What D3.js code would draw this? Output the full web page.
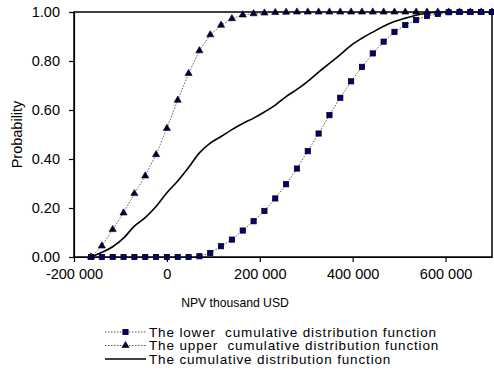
<!DOCTYPE html>
<html lang="en">
<head>
  <meta charset="UTF-8" />
  <title>NPV cumulative distribution</title>
  <script src="https://d3js.org/d3.v7.min.js"></script>
  <style>
    body {
      margin: 0;
      background: white;
      font-family: 'Liberation Sans', Arial, sans-serif;
    }
    .tick text { font-family: 'Liberation Sans', Arial, sans-serif; }
    .legend text { white-space: pre; }
  </style>
</head>
<body>
  <svg id="chart"></svg>

  <script>
    // NPV grid (thousand USD)
    const npv = [-163333, -140000, -116667, -93333, -70000, -46667, -23333, 0,
      23333, 46667, 70000, 93333, 116667, 140000, 163333, 186667, 210000, 233333,
      256667, 280000, 303333, 326667, 350000, 373333, 396667, 420000, 443333, 466667,
      490000, 513333, 536667, 560000, 583333, 606667, 630000, 653333, 676667, 700000];

    const lowerCdf = [0, 0, 0, 0, 0, 0, 0, 0, 0, 0, 0.003, 0.016, 0.044, 0.071, 0.108,
      0.146, 0.188, 0.239, 0.297, 0.361, 0.432, 0.504, 0.579, 0.650, 0.717, 0.776,
      0.831, 0.879, 0.919, 0.947, 0.967, 0.984, 0.992, 0.999, 1, 1, 1, 1];

    const upperCdf = [0, 0.045, 0.112, 0.18, 0.259, 0.331, 0.418, 0.525, 0.640, 0.749,
      0.842, 0.907, 0.946, 0.973, 0.988, 0.993, 0.996, 0.998, 0.999, 1, 1, 1, 1, 1, 1,
      1, 1, 1, 1, 1, 1, 1, 1, 1, 1, 1, 1, 1];

    const cdf = [0, 0.019, 0.042, 0.077, 0.126, 0.161, 0.206, 0.262, 0.31, 0.365,
      0.425, 0.465, 0.492, 0.52, 0.545, 0.567, 0.592, 0.62, 0.655, 0.684, 0.717,
      0.755, 0.79, 0.826, 0.864, 0.893, 0.918, 0.942, 0.961, 0.975, 0.987, 0.995,
      0.999, 1, 1, 1, 1, 1];

    const xTicks = [-200000, 0, 200000, 400000, 600000];
    const yTicks = [0, 0.2, 0.4, 0.6, 0.8, 1.0];

    const legendLabels = [
      "The lower  cumulative distribution function",
      "The upper  cumulative distribution function",
      "The cumulative distribution function"
    ];

    const W = 494, H = 377;
    const margin = { top: 12, right: 2, bottom: 120, left: 74 };
    const width = W - margin.left - margin.right;
    const height = H - margin.top - margin.bottom;

    const svg = d3.select("#chart").attr("width", W).attr("height", H);
    const g = svg.append("g").attr("transform", `translate(${margin.left},${margin.top})`);

    const x = d3.scaleLinear().domain([-200000, 700000]).range([0, width]);
    const y = d3.scaleLinear().domain([0, 1]).range([height, 0]);

    const loc = d3.formatLocale({ decimal: ".", thousands: " ", grouping: [3], currency: ["", ""], minus: "-" });
    const fmtX = loc.format(",d");

    // plot box
    g.append("rect")
      .attr("width", width)
      .attr("height", height)
      .attr("fill", "none")
      .attr("stroke", "#000")
      .attr("stroke-width", 1.5);

    const xAxis = g.append("g")
      .attr("transform", `translate(0,${height})`)
      .call(d3.axisBottom(x).tickValues(xTicks).tickFormat(fmtX).tickSize(5).tickPadding(7).tickSizeOuter(0));

    const yAxis = g.append("g")
      .call(d3.axisLeft(y).tickValues(yTicks).tickFormat(d3.format(".2f")).tickSize(5).tickPadding(9).tickSizeOuter(0));

    [xAxis, yAxis].forEach(a => {
      a.selectAll("path, line").attr("stroke", "#000").attr("stroke-width", 1.2);
      a.selectAll("text").attr("font-size", "14.5px").attr("fill", "#000");
    });

    const dataOf = vals => npv.map((v, i) => ({ x: v, y: vals[i] }));

    const line = d3.line().x(d => x(d.x)).y(d => y(d.y));
    const smooth = d3.line().x(d => x(d.x)).y(d => y(d.y)).curve(d3.curveMonotoneX);

    const upper = dataOf(upperCdf);
    const lower = dataOf(lowerCdf);
    const mid = dataOf(cdf);

    // solid cdf
    g.append("path").datum(mid)
      .attr("fill", "none").attr("stroke", "#000").attr("stroke-width", 1.6)
      .attr("d", smooth);

    // upper, triangles
    g.append("path").datum(upper)
      .attr("fill", "none").attr("stroke", "#333").attr("stroke-width", 0.8)
      .attr("stroke-dasharray", "1.5,1.5").attr("d", line);

    const tri = d3.symbol().type(d3.symbolTriangle).size(22);
    g.selectAll(".tri").data(upper).join("path")
      .attr("class", "tri")
      .attr("transform", d => `translate(${x(d.x)},${y(d.y)})`)
      .attr("d", tri)
      .attr("fill", "#000040").attr("stroke", "#000").attr("stroke-width", 0.6);

    // lower, squares
    g.append("path").datum(lower)
      .attr("fill", "none").attr("stroke", "#333").attr("stroke-width", 0.8)
      .attr("stroke-dasharray", "1.5,1.5").attr("d", line);

    g.selectAll(".sq").data(lower).join("rect")
      .attr("class", "sq")
      .attr("x", d => x(d.x) - 2.6).attr("y", d => y(d.y) - 2.6)
      .attr("width", 5.2).attr("height", 5.2)
      .attr("fill", "#000080").attr("stroke", "#000").attr("stroke-width", 0.8);

    // axis titles
    svg.append("text")
      .attr("x", 235).attr("y", 306.5)
      .attr("text-anchor", "middle")
      .attr("font-size", "12.2px")
      .text("NPV thousand USD");

    svg.append("text")
      .attr("transform", `translate(22,${margin.top + height / 2}) rotate(-90)`)
      .attr("text-anchor", "middle")
      .attr("font-size", "14.5px")
      .text("Probability");

    // legend
    const leg = svg.append("g").attr("class", "legend").attr("transform", "translate(105,332)");
    legendLabels.forEach((lab, i) => {
      const row = leg.append("g").attr("transform", `translate(0,${i * 13.5})`);
      row.append("line")
        .attr("x1", 0).attr("x2", 41).attr("y1", 0).attr("y2", 0)
        .attr("stroke", i < 2 ? "#333" : "#000")
        .attr("stroke-width", i < 2 ? 0.8 : 1.6)
        .attr("stroke-dasharray", i < 2 ? "1.5,1.5" : null);
      if (i === 0) {
        row.append("rect").attr("x", 20.5 - 2.6).attr("y", -2.6).attr("width", 5.2).attr("height", 5.2)
          .attr("fill", "#000080").attr("stroke", "#000").attr("stroke-width", 0.8);
      } else if (i === 1) {
        row.append("path").attr("transform", "translate(20.5,0)").attr("d", tri)
          .attr("fill", "#000040").attr("stroke", "#000").attr("stroke-width", 0.6);
      }
      row.append("text")
        .attr("x", 44).attr("y", 4.8)
        .attr("font-size", "13.5px")
        .attr("letter-spacing", "0.85px")
        .text(lab);
    });
  </script>
</body>
</html>
